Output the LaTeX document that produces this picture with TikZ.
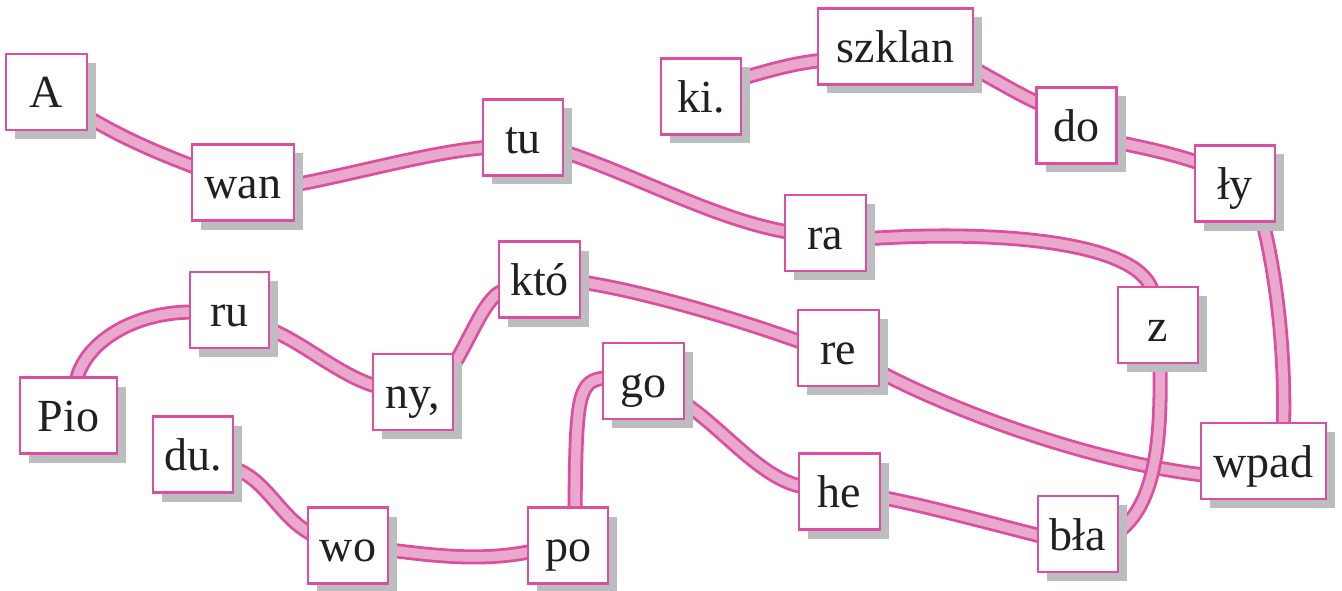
\documentclass[tikz,border=0pt]{standalone}
\usepackage{fontspec}
\setmainfont{Liberation Serif}
\usetikzlibrary{calc,shadows}
\definecolor{mag}{HTML}{DC4FA0}
\definecolor{tubefill}{HTML}{E9A9CD}
\definecolor{shgray}{HTML}{BCBDC0}
\definecolor{ink}{HTML}{231F20}
\pgfdeclarelayer{bg}
\pgfsetlayers{bg,main}
\begin{document}
\begin{tikzpicture}[x=1pt,y=-1pt,
  syl/.style={draw=mag, line width=2.4pt, fill=white, minimum width=80pt,
    minimum height=76pt, inner sep=0pt, text height=38pt, text depth=6pt,
    font=\fontsize{46}{50}\selectfont, text=ink,
    drop shadow={shadow xshift=9pt, shadow yshift=-9pt, fill=shgray, opacity=1}},
  tube/.style={draw=mag, line width=2.8pt, double=tubefill, double distance=9.5pt}]
\useasboundingbox (0,0) rectangle (1342,591);

\node[syl, minimum width=81pt] (A) at (46.5,92) {A};
\node[syl, minimum width=102pt] (wan) at (243,182.5) {wan};
\node[syl] (tu) at (523,137.5) {tu};
\node[syl] (ki) at (701,96.5) {ki.};
\node[syl, minimum width=155pt] (szklan) at (895.5,46.5) {szklan};
\node[syl] (do) at (1076.5,125.5) {do};
\node[syl] (ly) at (1235,183.5) {ły};
\node[syl, minimum width=81pt] (ra) at (825.5,233) {ra};
\node[syl] (z) at (1158,325) {z};
\node[syl, minimum width=81pt] (kto) at (539.5,279.5) {któ};
\node[syl, minimum width=79pt] (ru) at (229.5,310) {ru};
\node[syl, minimum width=81pt] (re) at (838.5,348) {re};
\node[syl, minimum width=97pt] (Pio) at (68.5,415.5) {Pio};
\node[syl] (ny) at (413,392) {ny,};
\node[syl] (du) at (193,454.5) {du.};
\node[syl, minimum width=81pt] (go) at (643.5,381) {go};
\node[syl, minimum width=81pt] (he) at (839.5,491.5) {he};
\node[syl, minimum width=125pt] (wpad) at (1263.5,461) {wpad};
\node[syl] (wo) at (348,545.5) {wo};
\node[syl] (po) at (568,545.5) {po};
\node[syl] (bla) at (1078,534) {bła};

\begin{pgfonlayer}{bg}
\fill[white] (0,0) rectangle (1342,591);
\draw[tube] ($(A.east)+(-4,23)$) .. controls (123,138) and (153,151) .. ($(wan.west)+(4,-15.5)$);
\draw[tube] ($(wan.east)+(-4,3)$) .. controls (350,175) and (430,152) .. ($(tu.west)+(4,10)$);
\draw[tube] ($(tu.east)+(-4,13)$) .. controls (638,176) and (714,219) .. ($(ra.west)+(4,-1)$);
\draw[tube] ($(ra.east)+(-4,6)$) .. controls (990,230) and (1135,240) .. ($(z.north)+(-6,4)$);
\draw[tube] ($(he.east)+(-4,5)$) .. controls (927,506) and (993,524) .. ($(bla.west)+(4,2)$);
\draw[tube] ($(go.east)+(-4,20)$) .. controls (725,430) and (760,478) .. ($(he.west)+(4,-5)$);
\draw[tube] ($(go.west)+(4,-3)$) .. controls (578,380) and (576,395) .. ($(po.north)+(7,4)$);
\draw[tube] ($(wo.east)+(-4,4)$) .. controls (430,555) and (480,562) .. ($(po.west)+(4,6)$);
\draw[tube] ($(du.east)+(-4,13)$) .. controls (265,476) and (280,518) .. ($(wo.west)+(4,-12)$);
\draw[tube] ($(Pio.north)+(8,4)$) .. controls (84,345) and (130,312) .. ($(ru.west)+(4,2)$);
\draw[tube] ($(ru.east)+(-4,18)$) .. controls (300,340) and (340,376) .. ($(ny.west)+(4,-6)$);
\draw[tube] ($(ny.east)+(-4,-22)$) .. controls (468,345) and (484,298) .. ($(kto.west)+(4,12)$);
\draw[tube] ($(kto.east)+(-4,2)$) .. controls (640,290) and (740,320) .. ($(re.west)+(4,-6)$);
\draw[tube] ($(re.east)+(-4,22)$) .. controls (950,410) and (1090,462) .. ($(wpad.west)+(4,14)$);
\draw[tube] ($(z.south)+(2,-4)$) .. controls (1161,430) and (1159,505) .. ($(bla.east)+(-4,0)$);
\draw[tube] ($(ly.south)+(27,-4)$) .. controls (1280,290) and (1285,370) .. ($(wpad.north)+(20,4)$);
\draw[tube] ($(do.east)+(-4,16)$) .. controls (1140,147) and (1170,153) .. ($(ly.west)+(4,-21)$);
\draw[tube] ($(szklan.east)+(-4,20)$) .. controls (995,80) and (1020,95) .. ($(do.west)+(4,-22)$);
\draw[tube] ($(ki.east)+(-4,-17)$) .. controls (770,70) and (795,63) .. ($(szklan.west)+(4,14)$);
\end{pgfonlayer}
\end{tikzpicture}
\end{document}
